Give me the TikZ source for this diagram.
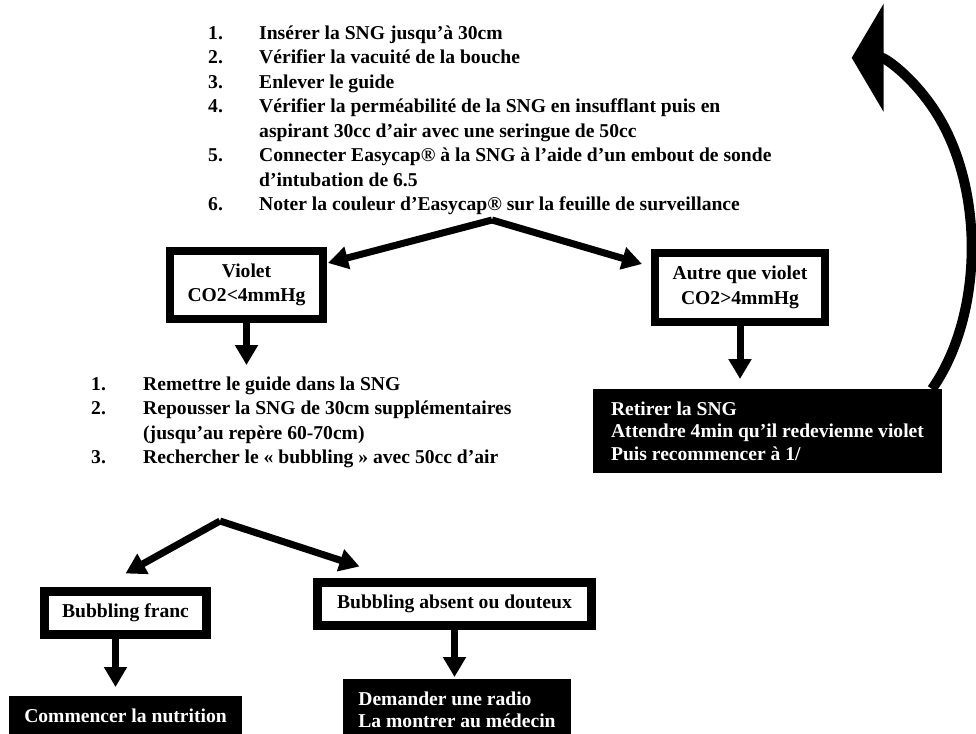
\documentclass[tikz,border=0pt]{standalone}
\usepackage{fontspec}
\setmainfont{Liberation Serif}
\usetikzlibrary{arrows.meta,positioning}

\begin{document}
\begin{tikzpicture}[x=1pt, y=1pt, font=\fontsize{19.6}{24.5}\selectfont\bfseries,
  choice/.style={draw, line width=8pt, fill=white, inner sep=0pt, outer sep=0pt, align=center},
  action/.style={fill=black, text=white, inner sep=0pt, outer sep=0pt, align=left,
    font=\fontsize{19.6}{22.5}\selectfont\bfseries},
  arr/.style={line width=7pt, -{Triangle[length=20pt, width=22pt]}}]
\useasboundingbox (0,0) rectangle (976,-733);
\clip (0,0) rectangle (976,-733);
% first steps
\node[anchor=north west, inner sep=0pt] (steps) at (208,-22) {%
  \begin{tabular}{@{}p{51pt}@{}l@{}}
  1. & Insérer la SNG jusqu’à 30cm\\
  2. & Vérifier la vacuité de la bouche\\
  3. & Enlever le guide\\
  4. & Vérifier la perméabilité de la SNG en insufflant puis en\\
     & aspirant 30cc d’air avec une seringue de 50cc\\
  5. & Connecter Easycap® à la SNG à l’aide d’un embout de sonde\\
     & d’intubation de 6.5\\
  6. & Noter la couleur d’Easycap® sur la feuille de surveillance
  \end{tabular}};
% colour of Easycap
\coordinate (fork1) at (492,-220);
\node[choice, minimum width=153pt, minimum height=68pt] (violet) at (246.5,-285) {Violet\\CO2<4mmHg};
\node[choice, minimum width=170pt, minimum height=69pt] (autre) at (740,-287.5) {Autre que violet\\CO2>4mmHg};
\draw[arr] (fork1) -- ([shift={(5pt,-12pt)}]violet.north east);
\draw[arr] (fork1) -- ([shift={(-13pt,-11pt)}]autre.north west);
% violet: push further
\node[anchor=north west, inner xsep=0pt, inner ysep=8pt] (relance) at (91,-365) {%
  \begin{tabular}{@{}p{52pt}@{}l@{}}
  1. & Remettre le guide dans la SNG\\
  2. & Repousser la SNG de 30cm supplémentaires\\
     & (jusqu’au repère 60-70cm)\\
  3. & Rechercher le « bubbling » avec 50cc d’air
  \end{tabular}};
\draw[arr] (violet.south) -- (violet.south |- relance.north);
% other colour: start again
\node[action, minimum width=349pt, minimum height=84pt] (retirer) at (767.5,-431)
  {Retirer la SNG\\Attendre 4min qu’il redevienne violet\\Puis recommencer à 1/};
\draw[arr] (autre.south) -- ([yshift=10pt]autre.south |- retirer.north);
\draw[line width=10pt, -{Triangle[length=32pt, width=107pt]}] ([xshift=-10pt]retirer.north east)
  arc[start angle=-48, end angle=90, x radius=120, y radius=190];
% bubbling
\coordinate (fork2) at (220,-521);
\node[choice, line width=9pt, minimum width=162pt, minimum height=43pt] (franc) at (125.5,-613) {Bubbling franc};
\node[choice, line width=9pt, minimum width=274pt, minimum height=43pt] (absent) at (454.5,-604) {Bubbling absent ou douteux};
\draw[arr] (fork2) -- ([yshift=18pt]franc.north);
\draw[arr] (fork2) -- ([shift={(42pt,16pt)}]absent.north west);
\node[action, align=center, minimum width=233pt, minimum height=40pt] (nutrition) at (125.5,-716) {Commencer la nutrition};
\node[action, minimum width=228pt, minimum height=62pt] (radio) at (457,-710)
  {Demander une radio\\La montrer au médecin};
\draw[arr] ([xshift=-10pt]franc.south) -- ([shift={(-10pt,9pt)}]nutrition.north);
\draw[arr] (absent.south) -- ([yshift=2pt]absent.south |- radio.north);
\end{tikzpicture}
\end{document}
